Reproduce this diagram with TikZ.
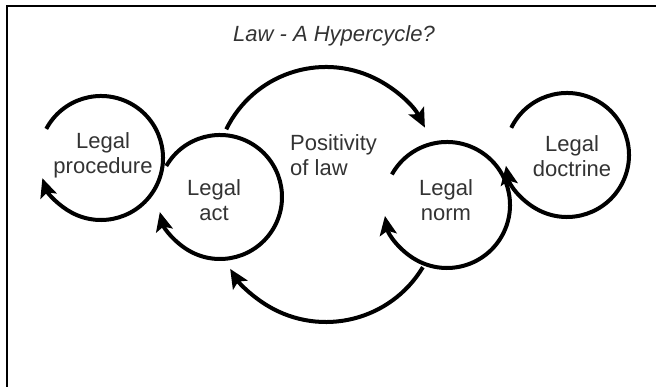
\documentclass[tikz,border=0pt]{standalone}
\usepackage{fontspec}
\setmainfont{Liberation Sans}
\usetikzlibrary{arrows.meta, positioning}
\definecolor{lawtext}{RGB}{51,51,51}

\begin{document}
\begin{tikzpicture}[x=1pt, y=1pt,
		font=\fontsize{22}{25}\selectfont,
		lbl/.style={text=lawtext, align=center, inner sep=0pt},
		cyc/.style={line width=4pt, -{Stealth[length=19pt, width=17pt, inset=4pt]}}]
		\useasboundingbox (0,0) rectangle (656,387);
		\draw[line width=2pt] (7,0) -- (7,381) -- (656,381);
		\node[lbl, font=\fontsize{22}{25}\selectfont\itshape] (title) at (334,351) {Law - A Hypercycle?};
		% circle centres
		\coordinate (proc) at (101,229);
		\coordinate (act) at (220,190);
		\coordinate (norm) at (447,182);
		\coordinate (doct) at (567,232);
		\coordinate (upc) at (326,209);
		\coordinate (lowc) at (326,178);
		\node[lbl] (proctxt) at (103,232) {Legal\\procedure};
		\node[lbl] (acttxt) at (214,187) {Legal\\act};
		\node[lbl] (normtxt) at (446,187) {Legal\\norm};
		\node[lbl] (docttxt) at (572,231) {Legal\\doctrine};
		\node[lbl, align=left, anchor=west] (pos) at (290,232) {Positivity\\of law};
		\foreach \c/\r/\a/\b in {proc/62/152/-161, act/62/150/-166, norm/63/151/-170, doct/62/154/-170}
		  \draw[cyc] ([shift={(\a:\r)}]\c) arc[start angle=\a, end angle=\b, radius=\r];
		\draw[cyc] ([shift={(154:111)}]upc) arc[start angle=154, end angle=27, radius=111];
		\draw[cyc] ([shift={(-31:113)}]lowc) arc[start angle=-31, end angle=-148, radius=113];
	\end{tikzpicture}
\end{document}
